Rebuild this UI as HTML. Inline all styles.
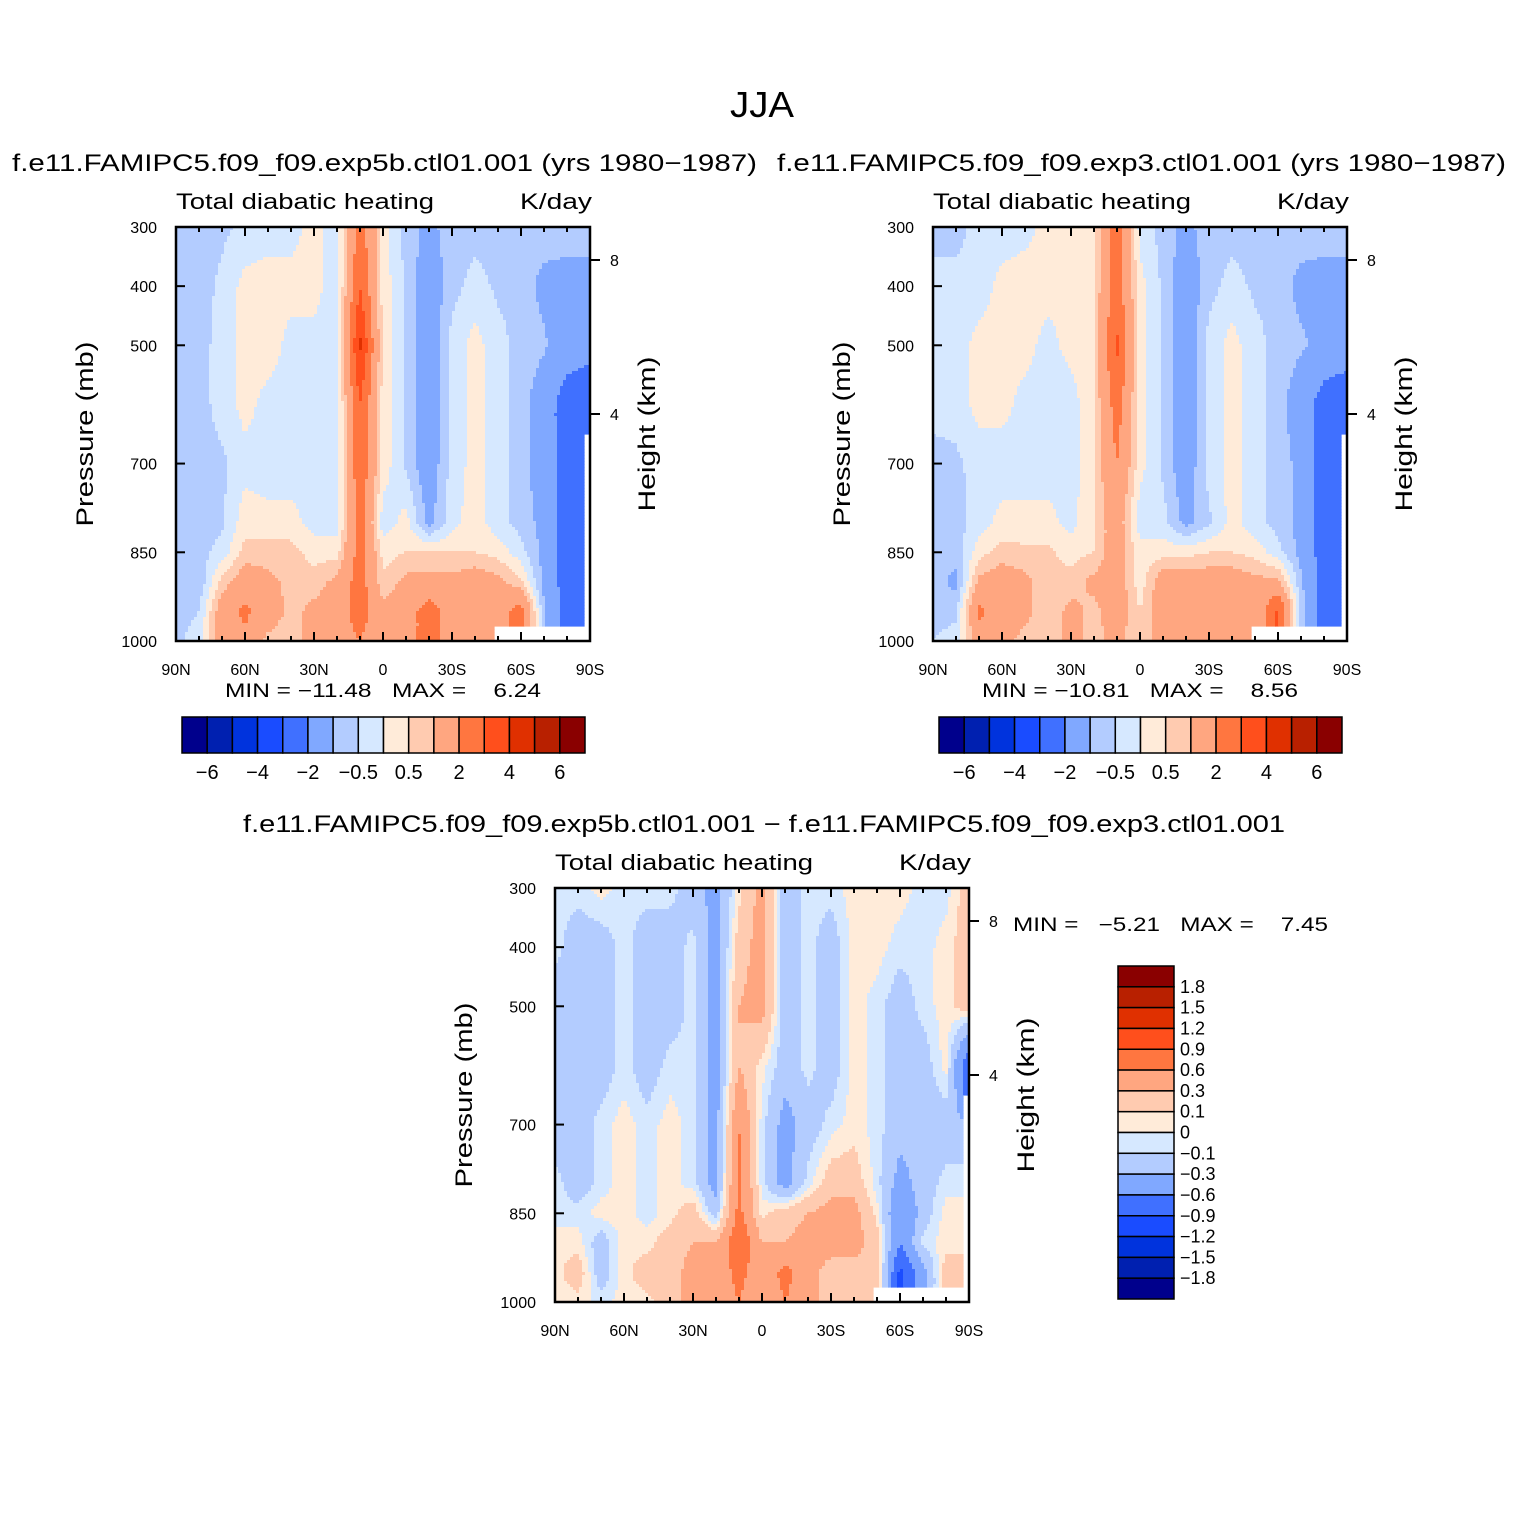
<!DOCTYPE html>
<html><head><meta charset="utf-8"><style>
html,body{margin:0;padding:0;background:#fff}
svg{display:block;font-family:"Liberation Sans",sans-serif}
text{white-space:pre}
</style></head><body>
<svg id="fig" width="1524" height="1524" viewBox="0 0 1524 1524" xmlns="http://www.w3.org/2000/svg">
<text x="762" y="117" font-size="36" text-anchor="middle" textLength="64" lengthAdjust="spacingAndGlyphs">JJA</text>
</svg>
<script>
const lats=[90,80,70,60,50,40,30,20,10,0,-10,-20,-30,-40,-50,-60,-70,-80,-90];
const pres=[300,400,500,600,700,800,850,900,950,1000];
const xTickLabels=["90N","60N","30N","0","30S","60S","90S"];
const pTickLabels=[300,400,500,700,850,1000];
const hTickLabels=[8,4];
const absLevels=[-6,-5,-4,-3,-2,-1,-0.5,0,0.5,1,2,3,4,5,6];
const absLevelLabels=["-6","-4","-2","-0.5","0.5","2","4","6"];
const diffLevels=[-1.8,-1.5,-1.2,-0.9,-0.6,-0.3,-0.1,0,0.1,0.3,0.6,0.9,1.2,1.5,1.8];
const colors=["#00008c","#0020b0","#0033dd","#1a4cff","#4070ff","#80a8ff","#b3ccff","#d6e8ff","#ffebd9","#ffcbb0","#ffa680","#ff7640","#ff4f1c","#e03000","#b82000","#8a0000"];
const dataExp5b=[
[-0.7,-0.7,-0.6,-0.4,-0.3,-0.2,0.2,-0.3,2.5,0.3,-0.7,-1.2,-0.7,-0.7,-0.7,-0.7,-0.7,-0.8,-0.8],
[-0.7,-0.7,-0.4,0.2,0.3,0.2,0.2,-0.3,3,0.3,-0.6,-1.5,-0.7,-0.3,-0.6,-0.7,-1.2,-1.2,-1.2],
[-0.7,-0.7,-0.3,0.2,0.3,-0.2,-0.2,-0.3,4.2,0.3,-0.6,-1.5,-0.3,0.2,-0.3,-0.7,-0.9,-1.5,-1.5],
[-0.7,-0.7,-0.3,0.2,-0.2,-0.3,-0.3,-0.3,3,0.3,-0.6,-1.5,-0.3,0.2,-0.3,-0.7,-1.5,-2.5,-3],
[-0.7,-0.7,-0.6,-0.2,-0.3,-0.3,-0.3,-0.3,2.8,0.3,-0.6,-1.5,-0.3,0.2,-0.3,-0.7,-1.5,-2.5,null],
[-0.7,-0.7,-0.6,0.3,0.2,0.2,-0.2,-0.3,2.5,-0.3,0.2,-1.2,-0.2,0.3,-0.3,-0.7,-1.2,-2.5,null],
[-0.7,-0.7,-0.3,0.7,0.7,0.7,0.3,0.3,2.5,0.3,0.5,0.5,0.5,0.5,0.3,-0.3,-1.2,-2.5,null],
[-0.7,-0.9,0.7,1.5,1.2,0.8,0.7,1.2,2.5,0.6,1.2,1.2,1.2,1.5,1.2,0.6,-1.2,-2.5,null],
[-0.7,-0.5,1.5,2.2,1.5,0.8,1.2,1.5,2.5,1.2,1.5,2.5,1.5,1.5,1.5,2.5,-0.9,-2.5,null],
[-0.6,-0.3,1.5,1.8,0.8,0.6,1.5,1.5,2,1.2,1.5,2.5,1.5,1.5,null,null,null,null,null]];
const dataExp3=[
[-0.7,-0.7,-0.3,-0.3,-0.2,0.2,0.2,0.5,2.5,-0.2,-0.7,-1.2,-0.7,-0.7,-0.7,-0.7,-0.7,-0.8,-0.8],
[-0.3,-0.3,-0.3,0.2,0.3,0.2,0.2,0.5,2.5,0.2,-0.6,-1.5,-0.7,-0.3,-0.6,-0.7,-1.2,-1.2,-1.2],
[-0.3,-0.3,0.2,0.2,0.2,-0.2,0.2,0.5,3.2,0.2,-0.6,-1.5,-0.3,0.2,-0.3,-0.7,-0.9,-1.2,-1.2],
[-0.3,-0.3,0.2,0.2,-0.2,-0.3,-0.3,0.5,2.5,0.2,-0.6,-1.5,-0.3,0.2,-0.3,-0.7,-1.5,-2.5,-3],
[-0.7,-0.6,-0.3,-0.3,-0.3,-0.3,-0.3,0.5,2,0.2,-0.6,-1.5,-0.3,0.2,-0.3,-0.7,-1.2,-2.5,null],
[-0.7,-0.7,-0.3,0.2,0.2,0.2,-0.2,0.5,1.5,-0.3,-0.3,-1.2,-0.6,0.2,-0.3,-0.7,-1.2,-2.5,null],
[-0.7,-0.8,0.3,0.7,0.6,0.6,0.3,0.5,1.5,0.2,0.3,0.3,0.5,0.5,0.3,-0.3,-1.2,-2.5,null],
[-0.7,-1.2,1.2,1.5,1.2,0.6,0.7,1.2,1.5,0.2,1.5,1.5,1.5,1.5,1.2,1.2,-0.9,-2.5,null],
[-0.7,-0.6,2.2,1.5,1.2,0.6,1.2,0.8,1.5,0.5,1.5,1.5,1.5,1.5,1.0,3.2,-0.6,-2.5,null],
[-0.5,-0.3,1.5,1.2,0.8,0.6,1.2,0.8,1.2,0.5,1.5,1.5,1.5,1.2,null,null,null,null,null]];
const dataDiff=[
[-0.05,-0.05,0.05,-0.05,-0.05,-0.05,-0.2,-0.4,0.05,0.4,-0.2,-0.05,-0.05,0.05,0.05,0.05,-0.05,-0.05,0.2],
[-0.05,-0.2,-0.2,-0.05,-0.2,-0.2,-0.05,-0.4,0.2,0.4,-0.2,-0.05,-0.2,0.05,0.05,-0.05,-0.05,0.05,0.2],
[-0.2,-0.2,-0.2,-0.05,-0.2,-0.2,-0.05,-0.4,0.3,0.4,-0.2,-0.05,-0.2,0.05,-0.05,-0.2,-0.05,0.05,0.2],
[-0.2,-0.2,-0.2,-0.05,-0.2,-0.05,-0.05,-0.4,0.3,0.05,-0.2,-0.05,-0.2,0.05,-0.05,-0.2,-0.2,0.05,-0.9],
[-0.2,-0.2,-0.05,0.05,-0.05,0.05,-0.05,-0.4,0.6,-0.05,-0.4,-0.2,-0.05,0.05,-0.05,-0.2,-0.2,-0.2,null],
[-0.05,-0.2,-0.05,0.05,-0.05,0.05,-0.05,-0.4,0.7,-0.05,-0.4,-0.05,0.2,0.2,-0.05,-0.4,-0.2,-0.05,null],
[-0.05,-0.05,0.05,0.05,-0.05,0.05,0.2,-0.2,0.7,0.05,0.2,0.3,0.4,0.4,0.05,-0.6,-0.2,0.05,null],
[0.05,0.05,-0.2,0.05,0.05,0.2,0.3,0.3,0.9,0.3,0.3,0.4,0.4,0.4,0.2,-0.6,-0.05,0.05,null],
[0.05,0.2,-0.2,0.05,0.2,0.2,0.4,0.4,0.7,0.4,0.7,0.4,0.2,0.2,0.2,-1,-0.4,0.2,null],
[0.05,0.05,-0.05,0.05,0.05,0.2,0.4,0.4,0.6,0.4,0.6,0.4,0.2,0.2,null,null,null,null,null]];

const NS="http://www.w3.org/2000/svg";
const svg=document.getElementById('fig');
function mk(tag,attrs,parent,text){const e=document.createElementNS(NS,tag);for(const k in attrs)e.setAttribute(k,attrs[k]);if(text!==undefined)e.textContent=text;(parent||svg).appendChild(e);return e;}
function colorIdx(v,levels){let i=0;while(i<levels.length&&v>=levels[i])i++;return i;}
function sample(data,lat,p){
  let j=0;while(j<lats.length-2&&lat<lats[j+1])j++;
  let i=0;while(i<pres.length-2&&p>pres[i+1])i++;
  const tx=(lats[j]-lat)/(lats[j]-lats[j+1]);const ty=(p-pres[i])/(pres[i+1]-pres[i]);
  const c=[[data[i][j],(1-tx)*(1-ty)],[data[i][j+1],tx*(1-ty)],[data[i+1][j],(1-tx)*ty],[data[i+1][j+1],tx*ty]];
  const nearest=c[(tx>0.8?1:0)+(ty>0.5?2:0)][0];
  if(nearest===null)return null;
  let s=0,w=0;for(const [v,wt] of c){if(v!==null){s+=v*wt;w+=wt;}}
  return s/w;
}
function drawPanel(name,ox,oy,data,levels,title,minmax){
  const W=414,H=414;
  const g=mk('g',{},svg);
  
  
  const xScale=lat=>ox+(90-lat)/180*W;
  const yScale=p=>oy+(p-300)/700*H;
  const latOf=x=>90-(x-ox)/W*180;
  const pOf=y=>300+(y-oy)/H*700;
  const st=3;
  const fg=mk('g',{},g);
  
  
  for(let y=oy;y<oy+H;y+=st){
    let runStart=ox,runCol=null;
    const hgt=Math.min(st,oy+H-y);
    for(let x=ox;x<=ox+W;x+=st){
      let col=null;
      if(x<ox+W){const v=sample(data,latOf(x+st/2),pOf(y+hgt/2));col=v===null?null:colors[colorIdx(v,levels)];}
      if(x===ox){runCol=col;runStart=x;continue;}
      if(col!==runCol||x>=ox+W){
        if(runCol){const r=mk('rect',{x:runStart,y:y,width:Math.min(x,ox+W)-runStart+0.6,height:hgt+0.6,fill:runCol},fg);}
        runStart=x;runCol=col;
      }
    }
  }
  const fr=mk('rect',{x:ox,y:oy,width:W,height:H,fill:'none',stroke:'#000','stroke-width':2.5},g);
  
  for(let lat=90;lat>=-90;lat-=10){
    const x=xScale(lat);const L=lat%30===0?9:5;
    mk('line',{x1:x,y1:oy+H,x2:x,y2:oy+H-L,stroke:'#000','stroke-width':2},g);
    mk('line',{x1:x,y1:oy,x2:x,y2:oy+L,stroke:'#000','stroke-width':2},g);
  }
  xTickLabels.forEach((t,k)=>{const lat=90-30*k;const e=mk('text',{x:xScale(lat),y:oy+H+34,'font-size':16,'text-anchor':'middle'},g,t);});
  pTickLabels.forEach(p=>{const y=yScale(p);mk('line',{x1:ox,y1:y,x2:ox+9,y2:y,stroke:'#000','stroke-width':2},g);
    const e=mk('text',{x:ox-19,y:y+6,'font-size':16,'text-anchor':'end'},g,String(p));});
  hTickLabels.forEach(h=>{const y=oy+33+(8-h)/4*154;mk('line',{x1:ox+W,y1:y,x2:ox+W+10,y2:y,stroke:'#000','stroke-width':2},g);
    const e=mk('text',{x:ox+W+20,y:y+6,'font-size':16},g,String(h));});
  let e=mk('text',{transform:`translate(${ox-83},${oy+207}) rotate(-90)`,'font-size':24,'text-anchor':'middle',textLength:185,lengthAdjust:'spacingAndGlyphs'},g,'Pressure (mb)');
  
  e=mk('text',{transform:`translate(${ox+W+65},${oy+207}) rotate(-90)`,'font-size':24,'text-anchor':'middle',textLength:155,lengthAdjust:'spacingAndGlyphs'},g,'Height (km)');
  
  e=mk('text',{x:ox,y:oy-18,'font-size':22,textLength:258,lengthAdjust:'spacingAndGlyphs'},g,'Total diabatic heating');
  
  e=mk('text',{x:ox+W-70,y:oy-18,'font-size':22,textLength:72,lengthAdjust:'spacingAndGlyphs'},g,'K/day');
  
  e=mk('text',{x:title[1],y:oy-56,'font-size':24,textLength:title[2],lengthAdjust:'spacingAndGlyphs'},g,title[0]);
  
  if(minmax){e=mk('text',{x:minmax[1],y:minmax[2],'font-size':19,textLength:minmax[3],lengthAdjust:'spacingAndGlyphs'},g,minmax[0]);
    }
}
drawPanel('panel-exp5b',176,227,dataExp5b,absLevels,['f.e11.FAMIPC5.f09_f09.exp5b.ctl01.001 (yrs 1980\u22121987)',12,745],['MIN = \u221211.48   MAX =    6.24',225,697,316]);
drawPanel('panel-exp3',933,227,dataExp3,absLevels,['f.e11.FAMIPC5.f09_f09.exp3.ctl01.001 (yrs 1980\u22121987)',777,729],['MIN = \u221210.81   MAX =    8.56',982,697,316]);
drawPanel('panel-diff',555,888,dataDiff,diffLevels,['f.e11.FAMIPC5.f09_f09.exp5b.ctl01.001 \u2212 f.e11.FAMIPC5.f09_f09.exp3.ctl01.001',243,1042],null);
let mm=mk('text',{x:1013,y:931,'font-size':19,textLength:315,lengthAdjust:'spacingAndGlyphs'},svg,'MIN =   \u22125.21   MAX =    7.45');


function hbar(name,x0,y0){
  const g=mk('g',{},svg);
  const w=403/16;
  colors.forEach((c,k)=>{const r=mk('rect',{x:x0+k*w,y:y0,width:w,height:36,fill:c,stroke:'#000','stroke-width':1.5},g);});
  absLevelLabels.forEach((t,k)=>{const e=mk('text',{x:x0+(k*2+1)*w,y:y0+62,'font-size':20,'text-anchor':'middle'},g,t.replace('-','\u2212'));});
}
hbar('colorbar-exp5b',182,717);
hbar('colorbar-exp3',939,717);
(function(){
  const g=mk('g',{},svg);
  const x0=1118,y0=966,h=333/16;
  colors.slice().reverse().forEach((c,k)=>{const r=mk('rect',{x:x0,y:y0+k*h,width:56,height:h,fill:c,stroke:'#000','stroke-width':1.5},g);});
  diffLevels.slice().reverse().forEach((v,k)=>{const e=mk('text',{x:x0+62,y:y0+(k+1)*h+6,'font-size':18},g,(v<0?'\u2212':'')+String(Math.abs(v)));});
})();
</script>
</body></html>
